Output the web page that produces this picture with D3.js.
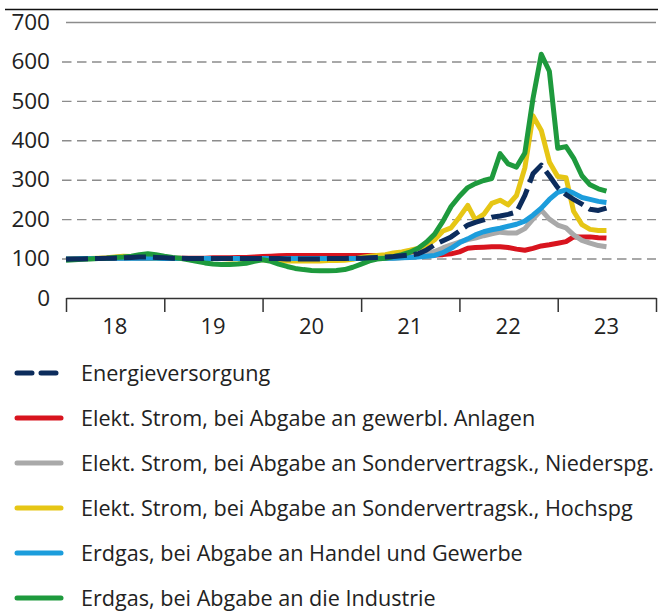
<!DOCTYPE html>
<html>
<head>
<meta charset="utf-8">
<script src="https://cdn.jsdelivr.net/npm/d3@7"></script>
<style>
  body { margin: 0; background: #fff; }
  text { font-family: "Open Sans", sans-serif; fill: #222; }
</style>
</head>
<body>
<div class="lineChart"></div>
<script>
// monthly index values, Jan 2018 .. Jul 2023
const energie = [98, 99, 99, 100, 100, 101, 101, 102, 103, 104, 104, 103,
  102, 101, 101, 100, 100, 100, 100, 100, 100, 100, 100, 100,
  100, 100, 100, 99, 99, 99, 99, 99, 100, 100, 100, 101,
  101, 102, 103, 104, 105, 107, 109, 112, 122, 135, 145, 155,
  170, 185, 192, 198, 205, 208, 212, 218, 260, 315, 337, 310,
  280, 262, 250, 238, 225, 222, 228];
const stromGewerbe = [100, 100, 100, 100, 100, 100, 100, 100, 100, 100, 100, 100,
  100, 100, 101, 101, 101, 101, 102, 102, 102, 103, 103, 104,
  105, 106, 107, 108, 108, 108, 108, 108, 108, 108, 108, 108,
  108, 108, 108, 108, 108, 108, 108, 108, 108, 109, 110, 112,
  117, 126, 128, 129, 130, 130, 128, 124, 121, 126, 132, 135,
  139, 143, 155, 155, 155, 153, 152];
const stromNieder = [100, 100, 100, 100, 100, 100, 100, 100, 100, 101, 101, 101,
  101, 100, 100, 100, 100, 100, 100, 100, 100, 100, 100, 100,
  100, 100, 100, 100, 100, 100, 100, 100, 100, 100, 100, 100,
  100, 100, 100, 100, 101, 102, 104, 107, 112, 118, 127, 135,
  142, 148, 152, 158, 163, 167, 165, 165, 176, 200, 223, 200,
  185, 178, 160, 146, 139, 133, 130];
const stromHoch = [98, 99, 100, 100, 101, 102, 104, 106, 105, 103, 102, 101,
  101, 100, 100, 100, 100, 100, 100, 100, 99, 99, 98, 98,
  97, 96, 95, 94, 94, 94, 94, 94, 95, 95, 96, 98,
  103, 106, 108, 110, 114, 117, 121, 126, 133, 148, 170, 178,
  205, 235, 198, 212, 240, 248, 236, 260, 330, 462, 425, 345,
  308, 305, 220, 186, 174, 171, 171];
const gasHandel = [99, 99, 100, 100, 100, 100, 101, 101, 101, 101, 101, 101,
  100, 100, 100, 100, 100, 100, 100, 100, 100, 100, 100, 100,
  100, 100, 100, 100, 100, 100, 100, 100, 100, 100, 100, 100,
  100, 100, 100, 101, 101, 102, 103, 104, 106, 108, 115, 126,
  140, 150, 160, 168, 173, 177, 182, 187, 195, 210, 228, 250,
  268, 274, 266, 255, 250, 245, 242];
const gasIndustrie = [96, 97, 98, 99, 100, 101, 103, 104, 106, 110, 112, 110,
  106, 103, 101, 97, 93, 89, 86, 85, 85, 86, 88, 93,
  97, 93, 86, 80, 75, 72, 70, 69, 69, 70, 72, 78,
  86, 94, 99, 101, 105, 110, 116, 126, 142, 162, 195, 232,
  258, 280, 290, 298, 303, 366, 340, 332, 368, 505, 618, 575,
  380, 384, 355, 310, 287, 277, 271];

const legendLabels = [
  "Energieversorgung",
  "Elekt. Strom, bei Abgabe an gewerbl. Anlagen",
  "Elekt. Strom, bei Abgabe an Sondervertragsk., Niederspg.",
  "Elekt. Strom, bei Abgabe an Sondervertragsk., Hochspg",
  "Erdgas, bei Abgabe an Handel und Gewerbe",
  "Erdgas, bei Abgabe an die Industrie"
];
const yTicks = [0, 100, 200, 300, 400, 500, 600, 700];
const yearLabels = ["18", "19", "20", "21", "22", "23"];

const months = d3.timeMonth.range(new Date(2018, 0, 1), new Date(2023, 7, 1));

const series = [
  { name: legendLabels[0], values: energie, color: "#0c2c5c", dash: "22,7" },
  { name: legendLabels[1], values: stromGewerbe, color: "#d8141e" },
  { name: legendLabels[2], values: stromNieder, color: "#a9a9a9" },
  { name: legendLabels[3], values: stromHoch, color: "#e6c615" },
  { name: legendLabels[4], values: gasHandel, color: "#1c9ddc" },
  { name: legendLabels[5], values: gasIndustrie, color: "#1e9a3d" }
];

const W = 659, H = 613;

const svg = d3.select(".lineChart").append("svg")
  .attr("width", W).attr("height", H);

// scales
const x = d3.scaleTime()
  .domain([new Date(2018, 0, 1), new Date(2024, 0, 1)])
  .range([66, 656]);
const y = d3.scaleLinear().domain([0, 700]).range([298, 22]);

// rule at top
svg.append("line")
  .attr("x1", 5).attr("x2", 658).attr("y1", 9.5).attr("y2", 9.5)
  .attr("stroke", "#111").attr("stroke-width", 1.5);

// y grid + labels
const gy = svg.append("g")
  .attr("transform", "translate(62,0)")
  .call(d3.axisLeft(y).tickValues(yTicks).tickSize(-594).tickPadding(12));
gy.select(".domain").remove();
gy.selectAll("text").style("font-size", "22.5px").attr("fill", "#222");
gy.selectAll(".tick line")
  .attr("stroke", "#8c8c8c").attr("stroke-width", 1.4)
  .attr("stroke-dasharray", d => d === 700 ? null : "9.5,5.5")
  .attr("x1", d => d === 700 ? 4 : 0)
  .style("display", d => d === 0 ? "none" : null);

// x axis: year ticks, labels in middle of year
const years = d3.timeYear.range(new Date(2018, 0, 1), new Date(2025, 0, 1));
const gx = svg.append("g")
  .attr("transform", "translate(0,298)")
  .call(d3.axisBottom(x).tickValues(years).tickSize(14).tickSizeOuter(0).tickFormat(""));
gx.select(".domain").attr("stroke", "#333").attr("stroke-width", 1.5);
gx.selectAll(".tick line").attr("stroke", "#333").attr("stroke-width", 1.5);

svg.append("g").selectAll("text")
  .data(yearLabels)
  .enter().append("text")
  .attr("x", (d, i) => x(d3.timeMonth.offset(years[i], 6)))
  .attr("y", 334)
  .attr("text-anchor", "middle")
  .style("font-size", "22px")
  .text(d => d);

// lines, navy dashed one drawn last
const lnMkr = d3.line()
  .x((d, i) => x(months[i]))
  .y(d => y(d));

const drawOrder = [1, 2, 3, 4, 5, 0];
svg.append("g").selectAll("path")
  .data(drawOrder.map(k => series[k]))
  .enter().append("path")
  .attr("fill", "none")
  .attr("stroke", d => d.color)
  .attr("stroke-width", 5)
  .attr("stroke-linejoin", "round")
  .attr("stroke-dasharray", d => d.dash || null)
  .attr("d", d => lnMkr(d.values));

// legend
const lg = svg.append("g").selectAll("g")
  .data(series)
  .enter().append("g")
  .attr("transform", (d, i) => "translate(0," + (373 + i * 45) + ")");

lg.append("line")
  .attr("x1", 17).attr("x2", 61)
  .attr("stroke", d => d.color)
  .attr("stroke-width", 5)
  .attr("stroke-linecap", "round")
  .attr("stroke-dasharray", d => d.dash ? "15,9" : null);

lg.append("text")
  .attr("x", 81).attr("dy", "0.35em")
  .style("font-size", "21.6px")
  .text(d => d.name);
</script>
</body>
</html>
